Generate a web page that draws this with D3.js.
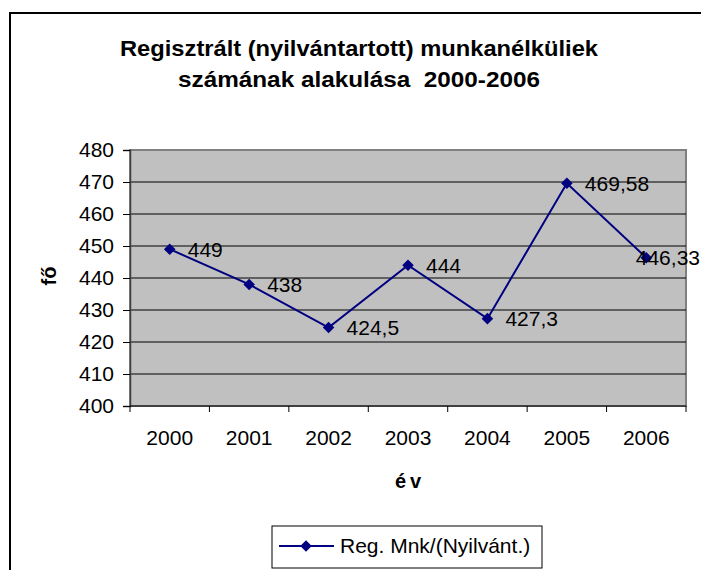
<!DOCTYPE html>
<html>
<head>
<meta charset="utf-8">
<script src="https://cdn.jsdelivr.net/npm/d3@7"></script>
<style>
  body { margin: 0; background: #fff; }
  text { font-family: "Liberation Sans", Arial, sans-serif; }
</style>
</head>
<body>
<svg id="chart"></svg>
<script>
const width = 701;
const height = 570;

// adatok
const years = ["2000", "2001", "2002", "2003", "2004", "2005", "2006"];
const values = [449, 438, 424.5, 444, 427.3, 469.58, 446.33];
const valueLabels = ["449", "438", "424,5", "444", "427,3", "469,58", "446,33"];
const yTicks = [400, 410, 420, 430, 440, 450, 460, 470, 480];
const titleLines = ["Regisztrált (nyilvántartott) munkanélküliek", "számának alakulása  2000-2006"];
const titleWidths = [478, 362];
const seriesName = "Reg. Mnk/(Nyilvánt.)";

const svg = d3.select("#chart")
  .attr("width", width)
  .attr("height", height);

// külső keret
svg.append("rect")
  .attr("x", 10).attr("y", 13)
  .attr("width", width + 10).attr("height", height + 10)
  .attr("fill", "#fff")
  .attr("stroke", "#000")
  .attr("stroke-width", 2);

const plot = { left: 130, top: 150, right: 686, bottom: 406 };

const x = d3.scaleBand()
  .domain(years)
  .range([plot.left, plot.right]);

const y = d3.scaleLinear()
  .domain([400, 480])
  .range([plot.bottom, plot.top]);

// cím
svg.append("g")
  .selectAll("text")
  .data(titleLines)
  .join("text")
  .attr("x", (d, i) => 359 - titleWidths[i] / 2)
  .attr("y", (d, i) => 56 + i * 31)
  .attr("font-size", "22px")
  .attr("font-weight", "bold")
  .attr("textLength", (d, i) => titleWidths[i])
  .attr("lengthAdjust", "spacingAndGlyphs")
  .style("white-space", "pre")
  .text(d => d);

// rajzterület háttere
svg.append("rect")
  .attr("x", plot.left).attr("y", plot.top)
  .attr("width", plot.right - plot.left)
  .attr("height", plot.bottom - plot.top)
  .attr("fill", "#c0c0c0")
  .attr("stroke", "#808080")
  .attr("stroke-width", 2);

// rácsvonalak
svg.append("g")
  .selectAll("line")
  .data(yTicks.filter(d => d > 400 && d < 480))
  .join("line")
  .attr("x1", plot.left).attr("x2", plot.right)
  .attr("y1", d => y(d)).attr("y2", d => y(d))
  .attr("stroke", "#000")
  .attr("stroke-width", 1);

// y tengely
const yAxis = svg.append("g")
  .attr("transform", `translate(${plot.left},0)`)
  .call(d3.axisLeft(y).tickValues(yTicks).tickSize(7).tickPadding(9));
yAxis.select(".domain").attr("stroke", "#404040").attr("stroke-width", 1.5);
yAxis.selectAll(".tick line").attr("stroke", "#000");
yAxis.selectAll(".tick text")
  .attr("font-size", "21px")
  .attr("font-family", "Liberation Sans, Arial, sans-serif")
  .attr("fill", "#000");

// x tengely
const xTickPos = years.map(d => x(d)).concat([plot.right]);
svg.append("line")
  .attr("x1", plot.left).attr("x2", plot.right)
  .attr("y1", plot.bottom).attr("y2", plot.bottom)
  .attr("stroke", "#000");
svg.append("g")
  .selectAll("line")
  .data(xTickPos)
  .join("line")
  .attr("x1", d => d).attr("x2", d => d)
  .attr("y1", plot.bottom).attr("y2", plot.bottom + 6)
  .attr("stroke", "#000");
svg.append("g")
  .selectAll("text")
  .data(years)
  .join("text")
  .attr("x", d => x(d) + x.bandwidth() / 2)
  .attr("y", 445)
  .attr("text-anchor", "middle")
  .attr("font-size", "21px")
  .text(d => d);

// tengelycímek
svg.append("text")
  .attr("x", 410)
  .attr("y", 488)
  .attr("text-anchor", "middle")
  .attr("font-size", "20px")
  .attr("font-weight", "bold")
  .attr("letter-spacing", "4px")
  .text("év");

svg.append("text")
  .attr("transform", "translate(56,276) rotate(-90)")
  .attr("text-anchor", "middle")
  .attr("font-size", "20px")
  .attr("font-weight", "bold")
  .text("fő");

// vonal
const pts = years.map((d, i) => ({ year: d, value: values[i], label: valueLabels[i] }));
const line = d3.line()
  .x(d => x(d.year) + x.bandwidth() / 2)
  .y(d => y(d.value));

svg.append("path")
  .datum(pts)
  .attr("d", line)
  .attr("fill", "none")
  .attr("stroke", "#000080")
  .attr("stroke-width", 2);

const diamond = d3.symbol().type(d3.symbolDiamond2).size(85);
svg.append("g")
  .selectAll("path")
  .data(pts)
  .join("path")
  .attr("transform", d => `translate(${x(d.year) + x.bandwidth() / 2},${y(d.value)})`)
  .attr("d", diamond)
  .attr("fill", "#000080");

// adatcímkék
svg.append("g")
  .selectAll("text")
  .data(pts)
  .join("text")
  .attr("y", d => y(d.value))
  .attr("dy", "0.36em")
  .attr("font-size", "21px")
  .text(d => d.label)
  .attr("x", function (d) {
    const len = this.getComputedTextLength();
    return Math.min(x(d.year) + x.bandwidth() / 2 + 18, width - 1 - len);
  });

// jelmagyarázat
const lg = svg.append("g");
lg.append("rect")
  .attr("x", 272).attr("y", 526)
  .attr("width", 270).attr("height", 42)
  .attr("fill", "#fff")
  .attr("stroke", "#000");
lg.append("line")
  .attr("x1", 279).attr("x2", 334)
  .attr("y1", 546).attr("y2", 546)
  .attr("stroke", "#000080")
  .attr("stroke-width", 2);
lg.append("path")
  .attr("transform", "translate(306,546)")
  .attr("d", diamond)
  .attr("fill", "#000080");
lg.append("text")
  .attr("x", 340)
  .attr("y", 553)
  .attr("font-size", "21px")
  .text(seriesName);
</script>
</body>
</html>
